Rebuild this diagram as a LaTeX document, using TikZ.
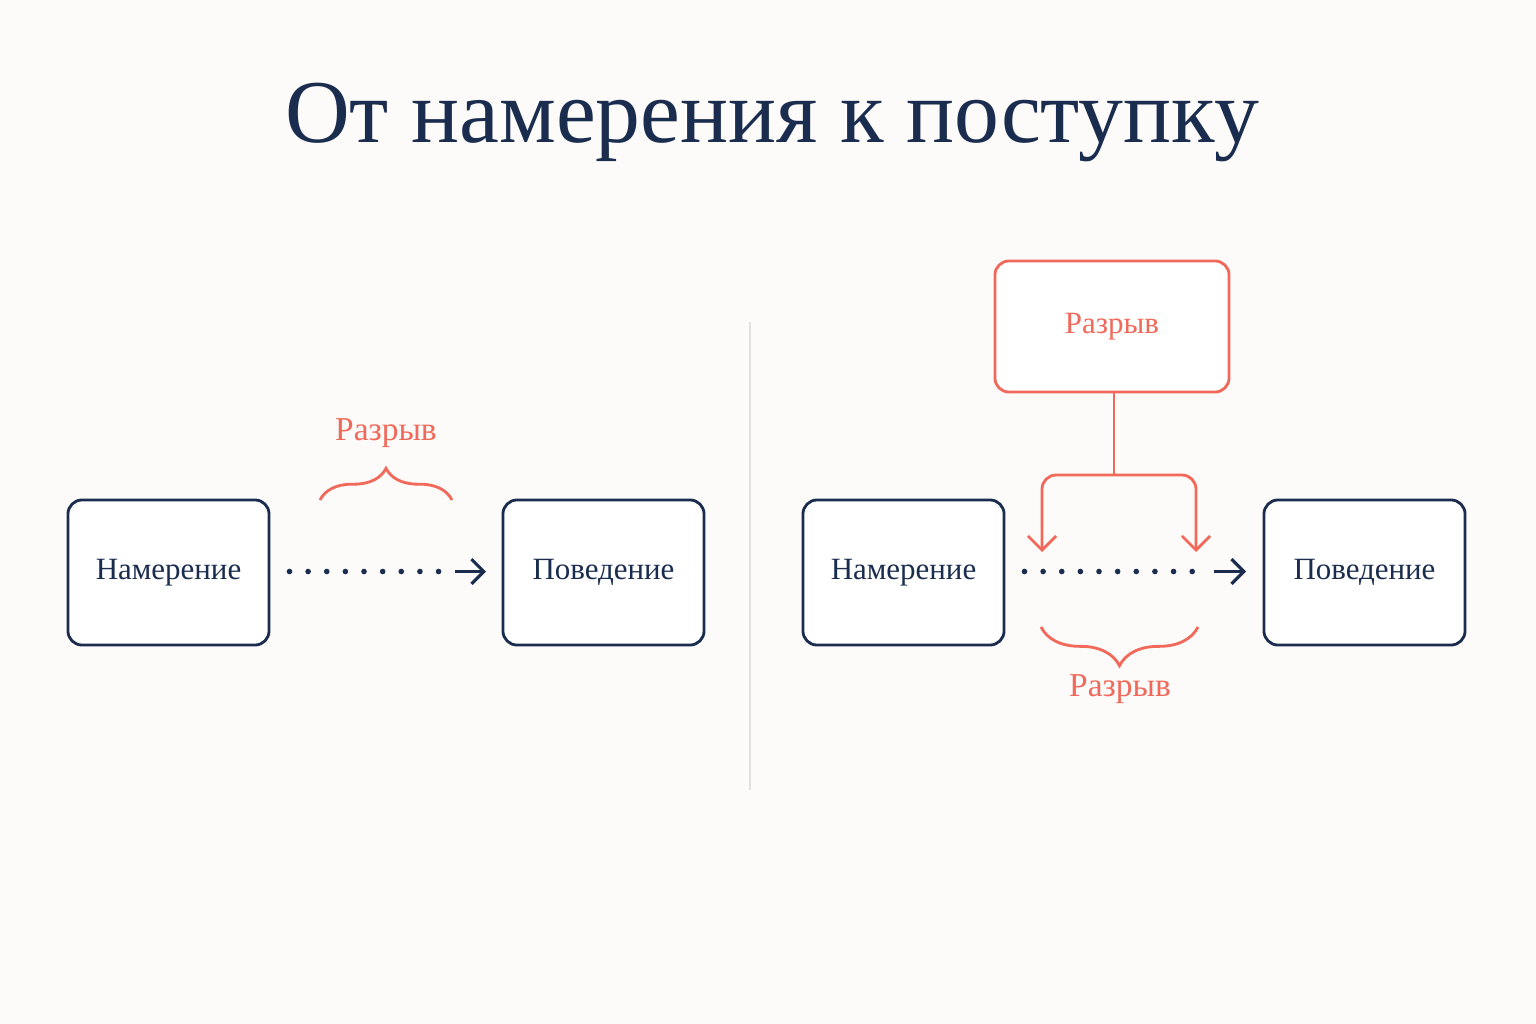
\documentclass[tikz,border=0pt]{standalone}
\usepackage{fontspec}
\setmainfont{Liberation Serif}
\usetikzlibrary{positioning,decorations.pathreplacing,arrows.meta}
\definecolor{navy}{HTML}{1B2D4F}
\definecolor{gapred}{HTML}{F0695A}
\definecolor{paper}{HTML}{FCFBF9}
\tikzset{
  stage/.style={draw=navy,line width=0.8pt,rounded corners=4pt,minimum width=2.01cm,minimum height=1.45cm,fill=white,font=\fontsize{8.8}{10}\selectfont,text=navy},
  gapbox/.style={stage,draw=gapred,text=gapred,minimum width=2.34cm,minimum height=1.31cm},
  flow/.style={navy,line width=1.6pt,dash pattern=on 0pt off 5.3pt,line cap=round},
  gap/.style={gapred,line width=0.8pt},
  gaplabel/.style={text=gapred,font=\fontsize{9.5}{11}\selectfont}
}
\begin{document}
\begin{tikzpicture}[x=0.01cm,y=-0.01cm]
\fill[paper] (0,0) rectangle (1536,1024);
\node[text=navy,font=\fontsize{25.5}{30}\selectfont] (title) at (772,122) {От намерения к поступку};
\coordinate (d1) at (750,322);
\coordinate (d2) at (750,790);
\draw[black!12,line width=0.5pt] (d1) -- (d2);
% left side
\node[stage] (intentL) at (168.5,572.5) {Намерение};
\node[stage] (actL) at (603.5,572.5) {Поведение};
\draw[flow] (intentL.east) ++(19,-1) coordinate (fL) -- ++(150,0) coordinate (tL);
\coordinate (hL) at (486,571.5);
\draw[navy,line width=0.9pt,-{Straight Barb[length=3.5pt,width=7pt]}] (fL -| 455,0) -- (hL);
\node[gaplabel] (gapL) at (386,433) {Разрыв};
\coordinate (bL1) at (320,500);
\coordinate (bL2) at (452,500);
\draw[gap,decorate,decoration={brace,amplitude=9pt}] (bL1) -- (bL2);
% right side
\node[stage] (intentR) at (903.5,572.5) {Намерение};
\node[stage] (actR) at (1364.5,572.5) {Поведение};
\draw[flow] (intentR.east) ++(19,-1) coordinate (fR) -- ++(175,0) coordinate (tR);
\coordinate (hR) at (1246,571.5);
\draw[navy,line width=0.9pt,-{Straight Barb[length=3.5pt,width=7pt]}] (fR -| 1214,0) -- (hR);
\node[gapbox] (gapR) at (1112,326.5) {Разрыв};
\coordinate (split) at (1114,475);
\coordinate (aL) at (1042,552);
\coordinate (aR) at (1196,552);
\draw[gap] (gapR.south -| split) -- (split);
\draw[gap,rounded corners=4pt,-{Straight Barb[length=4pt,width=8pt]}] (split) -| (aL);
\draw[gap,rounded corners=4pt,-{Straight Barb[length=4pt,width=8pt]}] (split) -| (aR);
\coordinate (bR1) at (1198,627);
\coordinate (bR2) at (1041,627);
\draw[gap,decorate,decoration={brace,amplitude=11pt}] (bR1) -- (bR2);
\node[gaplabel] (gapB) at (1120,689) {Разрыв};
\end{tikzpicture}
\end{document}
